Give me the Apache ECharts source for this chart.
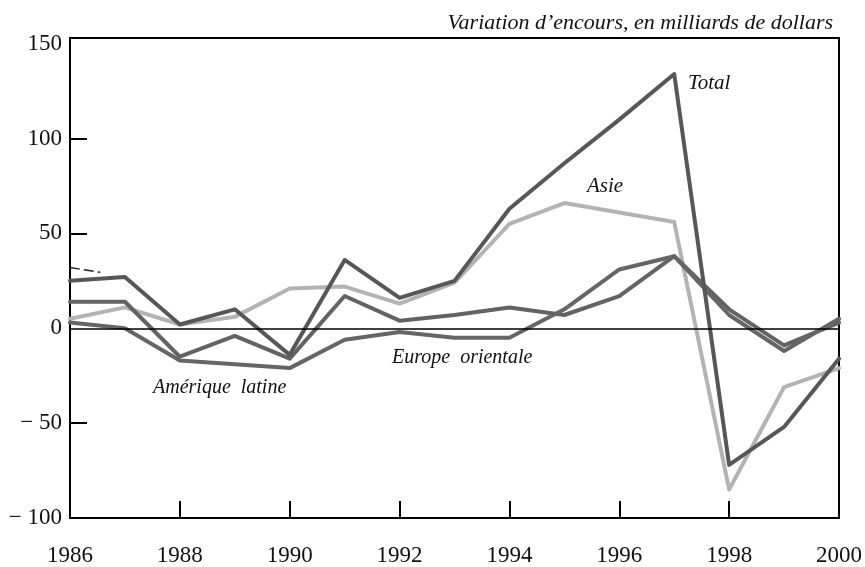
<!DOCTYPE html>
<html>
<head>
<meta charset="utf-8">
<script src="https://cdn.jsdelivr.net/npm/echarts@6/dist/echarts.min.js"></script>
<style>
  html, body { margin: 0; padding: 0; background: #fff; }
  #chart { width: 865px; height: 567px; }
</style>
</head>
<body>
<div id="chart"></div>
<script>
// années
const years = [1986, 1987, 1988, 1989, 1990, 1991, 1992, 1993, 1994, 1995, 1996, 1997, 1998, 1999, 2000];

// variation d'encours (milliards de dollars)
const total = [25, 27, 2, 10, -14, 36, 16, 25, 63, 87, 110, 134, -72, -52, -16];
const asie = [5, 11, 2, 6, 21, 22, 13, 24, 55, 66, 61, 56, -85, -31, -21];
const ameriqueLatine = [14, 14, -15, -4, -16, 17, 4, 7, 11, 7, 17, 38, 10, -9, 3];
const europeOrientale = [3, 0, -17, -19, -21, -6, -2, -5, -5, 10, 31, 38, 7, -12, 5];
// petit trait en haut à gauche
const stub = [[1986, 32], [1986.55, 29.5]];

const yLabels = [-100, -50, 0, 50, 100, 150];
const yTicks = [-50, 50, 100];
const xTicks = [1988, 1990, 1992, 1994, 1996, 1998];

const serif = 'Liberation Serif';

function pairs(arr) {
  return arr.map(function (v, i) { return [years[i], v]; });
}

let chart = echarts.init(document.getElementById('chart'));

function lineSeries(name, data, color, z) {
  return {
    name: name,
    type: 'line',
    data: pairs(data),
    symbol: 'none',
    z: z,
    lineStyle: {color: color, width: 4, cap: 'round', join: 'round'},
  };
}

let option = {
  animation: false,
  title: {
    text: 'Variation d’encours, en milliards de dollars',
    right: 27,
    top: 7,
    textStyle: {
      fontFamily: serif,
      fontStyle: 'italic',
      fontWeight: 'normal',
      fontSize: 22,
      color: '#111',
    },
  },
  grid: {
    left: 70,
    right: 23,
    top: 38,
    bottom: 48,
    show: true,
    borderColor: '#000',
    borderWidth: 2,
    backgroundColor: '#fff',
  },
  xAxis: {
    type: 'value',
    min: 1986,
    max: 2000,
    interval: 2,
    splitLine: {show: false},
    axisLine: {show: false, onZero: false},
    axisTick: {
      show: true,
      inside: true,
      length: 17,
      customValues: xTicks,
      lineStyle: {color: '#000', width: 2},
    },
    axisLabel: {
      margin: 26,
      fontFamily: serif,
      fontSize: 23,
      color: '#111',
      formatter: function (v) { return String(v); },
    },
  },
  yAxis: {
    type: 'value',
    min: -100,
    max: 153,
    interval: 50,
    splitLine: {show: false},
    axisLine: {show: false, onZero: false},
    axisTick: {
      show: true,
      inside: true,
      length: 17,
      customValues: yTicks,
      lineStyle: {color: '#000', width: 2},
    },
    axisLabel: {
      margin: 8,
      fontFamily: serif,
      fontSize: 23,
      color: '#111',
      customValues: yLabels,
      formatter: function (v) { return v < 0 ? '− ' + Math.abs(v) : String(v); },
    },
  },
  series: [
    lineSeries('Asie', asie, '#b3b3b3', 2),
    lineSeries('Amérique latine', ameriqueLatine, '#636363', 3),
    lineSeries('Europe orientale', europeOrientale, '#666666', 3),
    Object.assign(lineSeries('Total', total, '#575757', 4), {
      markLine: {
        silent: true,
        symbol: 'none',
        label: {show: false},
        lineStyle: {color: '#000', width: 1.5, type: 'solid'},
        data: [{yAxis: 0}],
      },
    }),
    {
      name: 'trait',
      type: 'line',
      data: stub,
      symbol: 'none',
      z: 5,
      lineStyle: {color: '#222', width: 1.5, type: [10, 4]},
    },
  ],
  graphic: [
    {type: 'text', left: 688, top: 73, style: {text: 'Total', font: 'italic 21px "Liberation Serif"', fill: '#111'}},
    {type: 'text', left: 587, top: 176, style: {text: 'Asie', font: 'italic 21px "Liberation Serif"', fill: '#111'}},
    {type: 'text', left: 392, top: 348, style: {text: 'Europe  orientale', font: 'italic 20px "Liberation Serif"', fill: '#111'}},
    {type: 'text', left: 153, top: 378, style: {text: 'Amérique  latine', font: 'italic 20px "Liberation Serif"', fill: '#111'}},
  ],
};

chart.setOption(option);
</script>
</body>
</html>
